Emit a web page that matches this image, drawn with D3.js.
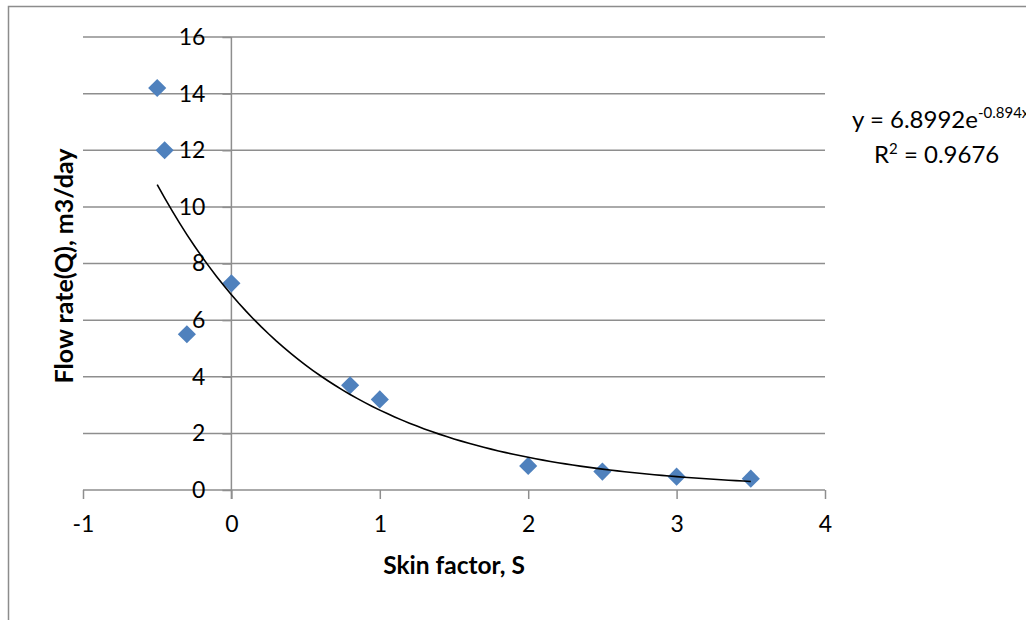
<!DOCTYPE html>
<html>
<head>
<meta charset="utf-8">
<script src="https://cdn.jsdelivr.net/npm/d3@7"></script>
<style>
  body { margin: 0; background: white; }
  svg text { font-family: Lato, "Open Sans", sans-serif; fill: black; }
</style>
</head>
<body>
<div id="chart"></div>
<script>
// datos
var skinFactor = [-0.5, -0.45, -0.3, 0, 0.8, 1, 2, 2.5, 3, 3.5];
var flowRate = [14.2, 12.0, 5.5, 7.3, 3.7, 3.2, 0.85, 0.65, 0.47, 0.4];
var xTicks = [-1, 0, 1, 2, 3, 4];
var yTicks = [0, 2, 4, 6, 8, 10, 12, 14, 16];
// linea de tendencia exponencial y = a * e^(b x)
var trendCoef = [6.8992, -0.894];
var trendRange = [-0.5, 3.5];
var rSquared = 0.9676;

var width = 1026, height = 620;
var margin = { top: 37, bottom: 130, left: 83, right: 201 };

var svg = d3.select("#chart").append("svg")
  .attr("width", width)
  .attr("height", height);

svg.append("rect")
  .attr("x", 8.5).attr("y", 6.5)
  .attr("width", 1100).attr("height", 700)
  .attr("fill", "white")
  .attr("stroke", "#8c8c8c")
  .attr("stroke-width", 1.5);

var escalaX = d3.scaleLinear().domain([-1, 4]).range([margin.left, width - margin.right]);
var escalaY = d3.scaleLinear().domain([0, 16]).range([height - margin.bottom, margin.top]);

var gridColor = "#8e8e8e";

// lineas horizontales
svg.append("g").selectAll("line")
  .data(yTicks)
  .enter().append("line")
  .attr("x1", escalaX(-1)).attr("x2", escalaX(4))
  .attr("y1", d => escalaY(d)).attr("y2", d => escalaY(d))
  .attr("stroke", gridColor)
  .attr("stroke-width", 1.5);

// eje x con marcas hacia abajo
var ejeX = d3.axisBottom(escalaX).tickValues(xTicks).tickSize(9).tickPadding(17)
  .tickFormat(d => String(d));
var gx = svg.append("g")
  .attr("transform", "translate(0," + escalaY(0) + ")")
  .call(ejeX);
gx.select(".domain").remove();
gx.selectAll("line").attr("stroke", gridColor).attr("stroke-width", 1.5);
gx.selectAll("text").style("font-size", "23px").attr("dy", "0.71em");

// eje y en x = 0
var ejeY = d3.axisLeft(escalaY).tickValues(yTicks).tickSize(9).tickPadding(17)
  .tickFormat(d => String(d));
var gy = svg.append("g")
  .attr("transform", "translate(" + escalaX(0) + ",0)")
  .call(ejeY);
gy.select(".domain").attr("stroke", gridColor).attr("stroke-width", 1.5)
  .attr("d", "M0," + escalaY(16) + "V" + (escalaY(0) + 9));
gy.selectAll("line").attr("stroke", gridColor).attr("stroke-width", 1.5);
gy.selectAll("text").style("font-size", "23px");

// puntos (rombos)
var diamond = d3.symbol().type(d3.symbolDiamond2).size(210);
svg.append("g").selectAll("path")
  .data(skinFactor.map((s, i) => [s, flowRate[i]]))
  .enter().append("path")
  .attr("d", diamond)
  .attr("transform", d => "translate(" + escalaX(d[0]) + "," + escalaY(d[1]) + ")")
  .attr("fill", "#4f81bd");

// linea de tendencia
var trendX = d3.range(trendRange[0], trendRange[1] + 0.001, 0.05);
var line = d3.line()
  .x(d => escalaX(d))
  .y(d => escalaY(trendCoef[0] * Math.exp(trendCoef[1] * d)));
svg.append("path")
  .datum(trendX)
  .attr("d", line)
  .attr("fill", "none")
  .attr("stroke", "black")
  .attr("stroke-width", 1.6);

// ecuacion
var eq = svg.append("text")
  .attr("x", 852).attr("y", 128)
  .style("font-size", "24px");
eq.append("tspan").text("y = " + trendCoef[0] + "e");
eq.append("tspan").attr("dy", -10).style("font-size", "15px").text(trendCoef[1] + "x");
var r2 = svg.append("text")
  .attr("x", 874).attr("y", 163)
  .style("font-size", "24px");
r2.append("tspan").text("R");
r2.append("tspan").attr("dy", -9).style("font-size", "15px").text("2");
r2.append("tspan").attr("dy", 9).text(" = " + rSquared);

// titulos de ejes
svg.append("text")
  .attr("x", (escalaX(-1) + escalaX(4)) / 2).attr("y", 574)
  .attr("text-anchor", "middle")
  .style("font-size", "24.5px").style("font-weight", "bold")
  .text("Skin factor, S");

svg.append("text")
  .attr("transform", "translate(73," + 266 + ") rotate(-90)")
  .attr("text-anchor", "middle")
  .style("font-size", "25px").style("font-weight", "bold")
  .text("Flow rate(Q), m3/day");
</script>
</body>
</html>
